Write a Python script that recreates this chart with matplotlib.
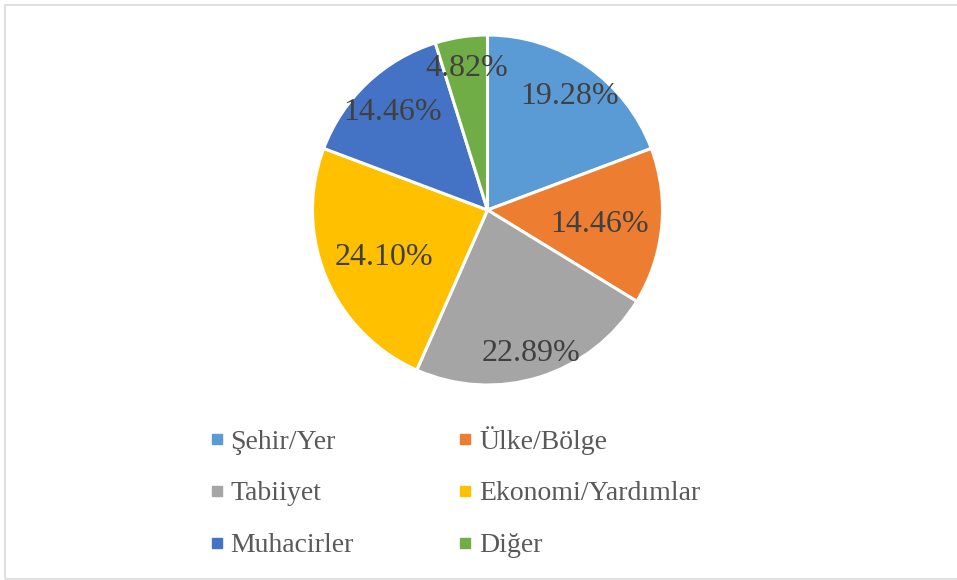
import matplotlib
matplotlib.use("Agg")
import matplotlib.pyplot as plt
from matplotlib.lines import Line2D
from matplotlib.patches import Rectangle

categories = ["Şehir/Yer", "Ülke/Bölge", "Tabiiyet", "Ekonomi/Yardımlar", "Muhacirler", "Diğer"]
shares = [19.28, 14.46, 22.89, 24.10, 14.46, 4.82]
colors = ["#5B9BD5", "#ED7D31", "#A5A5A5", "#FFC000", "#4472C4", "#70AD47"]

# label anchor points inside the pie (data units, radius = 1)
label_xy = [(0.47, 0.67), (0.64, -0.06), (0.25, -0.80), (-0.59, -0.25), (-0.54, 0.58), (-0.12, 0.83)]

plt.rcParams["font.family"] = ["Liberation Serif", "DejaVu Serif"]

W, H = 957, 580
fig = plt.figure(figsize=(W / 100, H / 100), dpi=100)
fig.patch.set_facecolor("white")

# outer chart frame
fig.add_artist(Rectangle((4.5 / W, 1 - 578.5 / H), (W + 10) / W, 574 / H,
                         transform=fig.transFigure, fill=False,
                         edgecolor="#D9D9D9", linewidth=1.2))

cx, cy, r = 487.5, 210, 175
ax = fig.add_axes([(cx - r) / W, (H - cy - r) / H, 2 * r / W, 2 * r / H])
wedges, _ = ax.pie(shares, colors=colors, startangle=90, counterclock=False,
                   radius=1, wedgeprops=dict(edgecolor="white", linewidth=2.2))
ax.set_xlim(-1, 1)
ax.set_ylim(-1, 1)
ax.set_aspect("equal")
ax.axis("off")

for v, (x, y) in zip(shares, label_xy):
    ax.text(x, y, f"{v:.2f}%", ha="center", va="center_baseline",
            fontsize=23, color="#404040")

# legend laid out row by row, two columns
handles = [Line2D([], [], marker="s", linestyle="none", markersize=7,
                  markerfacecolor=c, markeredgecolor=c) for c in colors]
order = [0, 2, 4, 1, 3, 5]
leg = fig.legend([handles[i] for i in order], [categories[i] for i in order],
                 ncol=2, loc="center", bbox_to_anchor=(455 / W, 1 - 492 / H),
                 frameon=False, fontsize=20, labelcolor="#595959",
                 handlelength=0.5, handletextpad=0.25, columnspacing=3.75,
                 labelspacing=0.95)

fig.savefig("out.png", dpi=100)
